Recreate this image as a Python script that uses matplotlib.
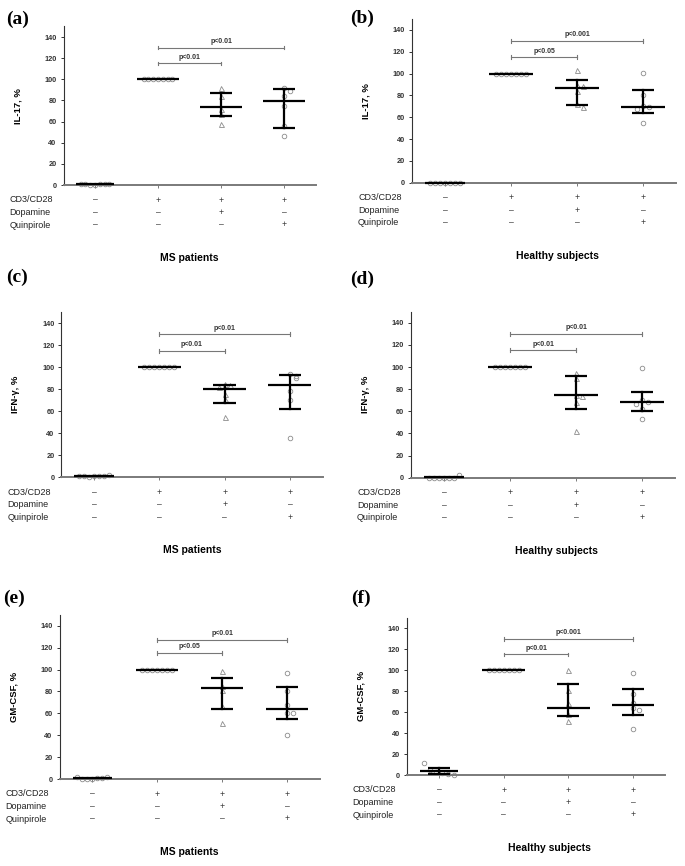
import numpy as np
import matplotlib
matplotlib.use('Agg')
import matplotlib.pyplot as plt
from matplotlib.transforms import blended_transform_factory

plt.rcParams['font.family'] = ['Liberation Sans', 'DejaVu Sans']

nan = np.nan

# panel texts
panel_tags = ['(a)', '(b)', '(c)', '(d)', '(e)', '(f)']
y_labels = ['IL-17, %', 'IL-17, %', 'IFN-γ, %', 'IFN-γ, %', 'GM-CSF, %', 'GM-CSF, %']
cohorts = ['MS patients', 'Healthy subjects', 'MS patients', 'Healthy subjects',
           'MS patients', 'Healthy subjects']
row_names = ['CD3/CD28', 'Dopamine', 'Quinpirole']
row_signs = [['–', '+', '+', '+'],
             ['–', '–', '+', '–'],
             ['–', '–', '–', '+']]
y_ticks = [0, 20, 40, 60, 80, 100, 120, 140]

# individual values per group (unstim, CD3/CD28, +dopamine, +quinpirole)
il17_ms = [[1, 0.5, 0, 0, 0.5, 1, 1], [100] * 7,
           [92, 84, 72, 67, 58], [92, 89, 84, 75, 56, 46]]
il17_hs = [[0, 0, 0, 0, 0, 0, 0], [100] * 7,
           [103, 90, 89, 84, 72, 69], [101, 80, 70, 69, 68, 55]]
ifng_ms = [[1.5, 1, 0.5, 1, 1, 1.5, 2], [100] * 7,
           [85, 84, 82, 76, 71, 55], [94, 92, 90, 78, 70, 36]]
ifng_hs = [[0, 0, 0, 0, 0, 0, 2.5], [100] * 7,
           [95, 90, 75, 74, 68, 42], [99, 70, 68, 67, 62, 53]]
gmcsf_ms = [[2, 0, 0, 0, 1, 1, 2], [100] * 7,
            [99, 85, 81, 67, 51], [97, 80, 67.5, 60, 60, 40]]
gmcsf_hs = [[11, 5, 3, 2, 1, 0], [100] * 7,
            [100, 81, 69, 58, 52], [97.5, 77, 69, 64, 62, 44]]

# median line and error bar ends
il17_ms_mid, il17_ms_lo, il17_ms_hi = [0.5, 100, 73.5, 79.5], [nan, nan, 65.5, 54], [nan, nan, 87, 90.5]
il17_hs_mid, il17_hs_lo, il17_hs_hi = [0, 100, 87, 69.5], [nan, nan, 71, 64], [nan, nan, 94, 85]
ifng_ms_mid, ifng_ms_lo, ifng_ms_hi = [1, 100, 80, 84], [nan, nan, 67.5, 62], [nan, nan, 84, 93]
ifng_hs_mid, ifng_hs_lo, ifng_hs_hi = [0.5, 100, 75, 68], [nan, nan, 62.5, 60], [nan, nan, 92, 77.5]
gmcsf_ms_mid, gmcsf_ms_lo, gmcsf_ms_hi = [1, 100, 83, 63.5], [nan, nan, 64, 55], [nan, nan, 92, 84]
gmcsf_hs_mid, gmcsf_hs_lo, gmcsf_hs_hi = [3.5, 100, 64, 66.5], [1, nan, 56.5, 57], [7, nan, 87, 82]

# significance labels (CD3/CD28 vs dopamine, CD3/CD28 vs quinpirole)
sig_dop = ['p<0.01', 'p<0.05', 'p<0.01', 'p<0.01', 'p<0.05', 'p<0.01']
sig_quin = ['p<0.01', 'p<0.001', 'p<0.01', 'p<0.01', 'p<0.01', 'p<0.001']
sig_dop_y = [115, 115, 115, 115, 115, 115]
sig_quin_y = [130, 130, 130, 130, 127, 130]

points = [il17_ms, il17_hs, ifng_ms, ifng_hs, gmcsf_ms, gmcsf_hs]
mids = [il17_ms_mid, il17_hs_mid, ifng_ms_mid, ifng_hs_mid, gmcsf_ms_mid, gmcsf_hs_mid]
los = [il17_ms_lo, il17_hs_lo, ifng_ms_lo, ifng_hs_lo, gmcsf_ms_lo, gmcsf_hs_lo]
his = [il17_ms_hi, il17_hs_hi, ifng_ms_hi, ifng_hs_hi, gmcsf_ms_hi, gmcsf_hs_hi]

W, H = 685, 866
# layout in pixels: first category x, category spacing, y of 0, pixels per unit
layout = [(95, 63, 185, 1.057), (445, 66, 182.7, 1.091),
          (94, 65.3, 477.3, 1.10), (444, 66, 477.7, 1.107),
          (92, 65, 779, 1.095), (439, 64.7, 775, 1.048)]
tag_pos = [(6, 19), (350, 18), (6, 277), (350, 279), (3, 598), (351, 598)]

fig = plt.figure(figsize=(W / 100, H / 100), dpi=100)

GRAY = '#8c8c8c'


def spread(vals, same_width):
    """x offsets so that equal/close values don't sit on top of each other"""
    vals = list(vals)
    if same_width:
        n = len(vals)
        return np.linspace(-0.23, 0.23, n)
    offs, placed = [], []
    for v in vals:
        k = sum(1 for p in placed if abs(p - v) < 3.5)
        sgn = 1 if k % 2 else -1
        offs.append(0 if k == 0 else sgn * 0.09 * ((k + 1) // 2))
        placed.append(v)
    return np.array(offs)


for i in range(6):
    x0, sp, ybot, ppu = layout[i]
    left = x0 - 0.5 * sp
    right = x0 + 3.5 * sp
    top = ybot - 150 * ppu
    ax = fig.add_axes([left / W, 1 - ybot / H, (right - left) / W, (ybot - top) / H])
    ax.set_xlim(-0.5, 3.5)
    ax.set_ylim(0, 150)

    for g in range(4):
        vals = points[i][g]
        xs = g + spread(vals, g < 2)
        ax.plot(xs, vals, ls='none', marker='^' if g == 2 else 'o',
                ms=3.6 if g == 2 else 3.3, mfc='none', mec=GRAY, mew=0.6,
                clip_on=False, zorder=2)
        hw = 0.3 if g == 0 else 0.33
        ax.plot([g - hw, g + hw], [mids[i][g]] * 2, color='black', lw=1.6,
                solid_capstyle='butt', zorder=3, clip_on=False)
        lo, hi = los[i][g], his[i][g]
        if not np.isnan(lo):
            ax.plot([g, g], [lo, hi], color='black', lw=1.6, zorder=3)
            for yy in (lo, hi):
                ax.plot([g - 0.17, g + 0.17], [yy, yy], color='black', lw=1.6,
                        solid_capstyle='butt', zorder=3)

    # significance brackets
    for x2, yy, txt in ((2, sig_dop_y[i], sig_dop[i]), (3, sig_quin_y[i], sig_quin[i])):
        ax.plot([1, x2], [yy, yy], color='#777777', lw=0.8)
        for xx in (1, x2):
            ax.plot([xx, xx], [yy - 1.8, yy + 1.8], color='#777777', lw=0.8)
        ax.text((1 + x2) / 2, yy + 2.5, txt, ha='center', va='bottom',
                fontsize=5, fontweight='bold', color='#333333')

    ax.spines['top'].set_visible(False)
    ax.spines['right'].set_visible(False)
    ax.spines['left'].set_color('#333333')
    ax.spines['left'].set_linewidth(0.8)
    ax.spines['bottom'].set_color('#7a7a7a')
    ax.spines['bottom'].set_linewidth(1.4)
    ax.set_yticks(y_ticks)
    ax.set_yticklabels([str(t) for t in y_ticks], fontsize=5.3, fontweight='bold')
    ax.tick_params(axis='y', length=2.5, width=0.7, pad=2.5, colors='#333333')
    ax.set_xticks([0, 1, 2, 3])
    ax.set_xticklabels([])
    ax.tick_params(axis='x', length=2.5, width=0.7, colors='#7a7a7a')
    ax.set_ylabel(y_labels[i], fontsize=6.8, fontweight='bold', labelpad=8)
    ax.yaxis.set_label_coords(-41 / (right - left), 0.5)

    # condition table under the axis
    trans = blended_transform_factory(ax.transData, fig.transFigure)
    for r, off in enumerate((15, 27.5, 40)):
        yy = 1 - (ybot + off) / H
        fig.text((left - 54) / W, yy, row_names[r], fontsize=6.5, va='center',
                 ha='left', color='#222222')
        for g in range(4):
            ax.text(g, yy, row_signs[r][g], transform=trans, fontsize=6.2,
                    ha='center', va='center', color='#333333')

    cx = (left + right) / 2 + (13 if i % 2 else 0)
    fig.text(cx / W, 1 - (ybot + 73) / H, cohorts[i], fontsize=7.5,
             fontweight='bold', ha='center', va='center')

    tx, ty = tag_pos[i]
    fig.text(tx / W, 1 - ty / H, panel_tags[i], fontsize=14, fontweight='bold',
             family=['Liberation Serif', 'DejaVu Serif'], ha='left', va='center')

fig.savefig('out.png', dpi=100)
